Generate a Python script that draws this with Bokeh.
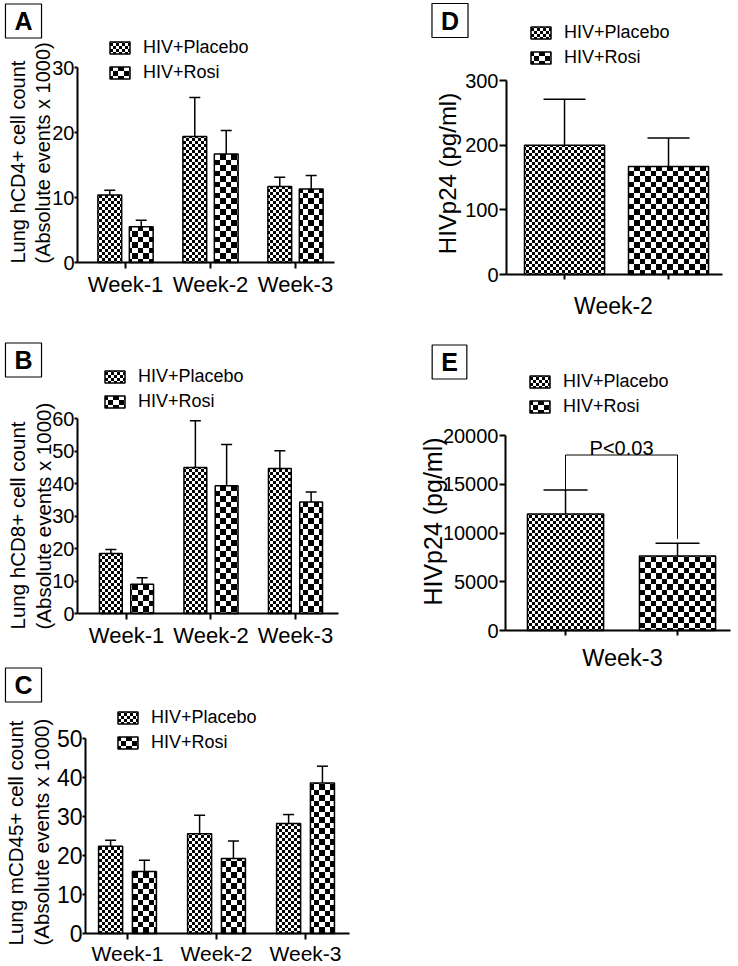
import zlib
import struct
import base64

from bokeh.plotting import figure
from bokeh.models import (ColumnDataSource, Range1d, FixedTicker, Whisker, TeeHead,
                          Legend, LegendItem, Label, ImageURLTexture)
from bokeh.transform import dodge
from bokeh.layouts import row, column
from bokeh.embed import file_html
from bokeh.resources import INLINE
from bokeh.core.properties import value

FONT = "Liberation Sans"

# ---------------- data ----------------
series_names = ["HIV+Placebo", "HIV+Rosi"]
weeks = ["Week-1", "Week-2", "Week-3"]

# Panel A: Lung hCD4+
a_placebo = [10.4, 19.4, 11.7]
a_placebo_err = [0.7, 6.0, 1.4]
a_rosi = [5.5, 16.7, 11.3]
a_rosi_err = [1.0, 3.6, 2.1]
a_yticks = [0, 10, 20, 30]
a_ylabel = "Lung hCD4+ cell count\n(Absolute events x 1000)"

# Panel B: Lung hCD8+
b_placebo = [18.5, 44.9, 44.6]
b_placebo_err = [1.2, 14.4, 5.5]
b_rosi = [9.0, 39.3, 34.3]
b_rosi_err = [2.0, 12.7, 3.1]
b_yticks = [0, 10, 20, 30, 40, 50, 60]
b_ylabel = "Lung hCD8+ cell count\n(Absolute events x 1000)"

# Panel C: Lung mCD45+
c_placebo = [22.4, 25.6, 28.2]
c_placebo_err = [1.5, 4.7, 2.3]
c_rosi = [15.9, 19.2, 38.6]
c_rosi_err = [2.9, 4.5, 4.3]
c_yticks = [0, 10, 20, 30, 40, 50]
c_ylabel = "Lung mCD45+ cell count\n(Absolute events x 1000)"

# Panel D: HIVp24 week 2
d_week = ["Week-2"]
d_placebo = [200]
d_placebo_err = [71]
d_rosi = [167]
d_rosi_err = [44]
d_yticks = [0, 100, 200, 300]
d_ylabel = "HIVp24 (pg/ml)"

# Panel E: HIVp24 week 3
e_week = ["Week-3"]
e_placebo = [11950]
e_placebo_err = [2450]
e_rosi = [7650]
e_rosi_err = [1300]
e_yticks = [0, 5000, 10000, 15000, 20000]
e_ylabel = "HIVp24 (pg/ml)"
e_pvalue = "P<0.03"
e_bracket_y = 18000


# ---------------- checkerboard textures (tiny PNG tiles) ----------------
def checker_png(n, cell):
    raw = bytearray()
    for y in range(n):
        raw.append(0)
        for x in range(n):
            dark = ((x < cell) == (y < cell))
            v = 0 if dark else 255
            raw += bytes((v, v, v))

    def chunk(tag, data):
        c = struct.pack(">I", len(data)) + tag + data
        return c + struct.pack(">I", zlib.crc32(tag + data) & 0xFFFFFFFF)

    png = (b"\x89PNG\r\n\x1a\n"
           + chunk(b"IHDR", struct.pack(">IIBBBBB", n, n, 8, 2, 0, 0, 0))
           + chunk(b"IDAT", zlib.compress(bytes(raw)))
           + chunk(b"IEND", b""))
    return "data:image/png;base64," + base64.b64encode(png).decode()


fine_tex = ImageURLTexture(url=checker_png(6, 3), repetition="repeat")
coarse_tex = ImageURLTexture(url=checker_png(11, 6), repetition="repeat")


def make_panel(cats, plac, plac_err, rosi, rosi_err, yticks, ylabel, *,
               size, box, xbox, bar_w, offs, head,
               ytick_size, ytick_out, xtick_size, xtick_out, xtick_standoff,
               ylabel_pos, ylabel_size, ylabel_align,
               letter, letter_pos, legend_pos,
               xlabel=None, xlabel_pos=None, xlabel_size=None):
    W, H = size
    bx0, by0, bx1, by1 = box            # axis box in figure pixels (left, top, right, bottom)
    xlo, xhi = xbox                     # data x at left / right end of x axis
    ymax = yticks[-1]
    sx = (bx1 - bx0) / (xhi - xlo)
    sy = (by1 - by0) / ymax
    x_range = Range1d(xlo - bx0 / sx, xlo + (W - bx0) / sx)
    y_range = Range1d(-(H - by1) / sy, by1 / sy)

    p = figure(width=W, height=H, x_range=x_range, y_range=y_range,
               output_backend="svg", toolbar_location=None,
               min_border=0, min_border_left=0, min_border_right=0,
               min_border_top=0, min_border_bottom=0)
    p.xgrid.visible = False
    p.ygrid.visible = False
    p.outline_line_color = None
    p.background_fill_color = "white"
    p.border_fill_color = "white"

    src = ColumnDataSource(dict(
        x=list(range(len(cats))),
        plac=plac, plac_hi=[m + e for m, e in zip(plac, plac_err)],
        rosi=rosi, rosi_hi=[m + e for m, e in zip(rosi, rosi_err)],
    ))

    rends = []
    for key, off, tex, name in (("plac", offs[0], fine_tex, "fine"),
                                ("rosi", offs[1], coarse_tex, "coarse")):
        r = p.vbar(x=dodge("x", off), top=key, bottom=0, width=bar_w, source=src,
                   fill_color="white", line_color="black", line_width=1.5,
                   hatch_pattern=value(name), hatch_extra={name: tex},
                   hatch_color="black", hatch_alpha=1.0)
        rends.append(r)
        w = Whisker(base=dodge("x", off), lower=key, upper=key + "_hi", source=src,
                    dimension="height", line_color="black", line_width=1.5,
                    upper_head=TeeHead(size=head, line_color="black", line_width=1.5),
                    lower_head=None)
        p.add_layout(w)

    # y axis (placed at the left end of the x axis)
    ya = p.yaxis[0]
    ya.fixed_location = xlo
    ya.bounds = (0, ymax)
    ya.ticker = FixedTicker(ticks=yticks, minor_ticks=[])
    ya.major_label_text_font = FONT
    ya.major_label_text_font_size = ytick_size
    ya.major_label_text_color = "black"
    ya.major_label_standoff = 0 if ytick_out < 5 else 1
    ya.axis_line_width = 2
    ya.axis_line_color = "black"
    ya.major_tick_line_width = 2
    ya.major_tick_line_color = "black"
    ya.major_tick_out = ytick_out
    ya.major_tick_in = 0
    ya.minor_tick_out = 0
    ya.minor_tick_in = 0

    # x axis (at y = 0)
    xa = p.xaxis[0]
    xa.fixed_location = 0
    xa.bounds = (xlo, xhi)
    if xlabel is None:
        xs = list(range(len(cats)))
        xa.ticker = FixedTicker(ticks=xs, minor_ticks=[])
        xa.major_label_overrides = {i: c for i, c in enumerate(cats)}
        xa.major_label_text_font = FONT
        xa.major_label_text_font_size = xtick_size
        xa.major_label_text_color = "black"
        xa.major_label_standoff = xtick_standoff
    else:
        xs = [offs[0], offs[1]]
        xa.ticker = FixedTicker(ticks=xs, minor_ticks=[])
        xa.major_label_overrides = {t: "" for t in xs}
        xa.major_label_text_font_size = "0px"
        xa.major_label_standoff = 0
    xa.axis_line_width = 2
    xa.axis_line_color = "black"
    xa.major_tick_line_width = 2
    xa.major_tick_line_color = "black"
    xa.major_tick_out = xtick_out
    xa.major_tick_in = 0
    xa.minor_tick_out = 0
    xa.minor_tick_in = 0

    # y axis title
    p.add_layout(Label(x=ylabel_pos[0], y=H - ylabel_pos[1], x_units="screen", y_units="screen",
                       text=ylabel, angle=90, angle_units="deg",
                       text_font=FONT, text_font_size=ylabel_size, text_color="black",
                       text_align=ylabel_align, text_baseline="middle",
                       text_line_height=1.15))
    # x axis title (single-category panels)
    if xlabel is not None:
        p.add_layout(Label(x=xlabel_pos[0], y=H - xlabel_pos[1], x_units="screen", y_units="screen",
                           text=xlabel, text_font=FONT, text_font_size=xlabel_size,
                           text_color="black", text_align="center",
                           text_baseline="alphabetic"))

    # legend
    legend = Legend(items=[LegendItem(label=series_names[0], renderers=[rends[0]]),
                           LegendItem(label=series_names[1], renderers=[rends[1]])],
                    location=(legend_pos[0], H - legend_pos[1]), orientation="vertical",
                    glyph_width=25, glyph_height=15, label_height=20,
                    label_standoff=11, spacing=4, padding=0, margin=0,
                    label_text_font=FONT, label_text_font_size="18px",
                    label_text_color="black",
                    border_line_color=None, background_fill_alpha=0)
    p.add_layout(legend)

    # panel letter in a box
    p.add_layout(Label(x=letter_pos[0], y=H - letter_pos[1], x_units="screen", y_units="screen",
                       text=letter, text_font=FONT, text_font_style="bold",
                       text_font_size="25px", text_color="black",
                       text_align="center", text_baseline="middle",
                       border_line_color="black", border_line_width=1.2,
                       background_fill_color="white", padding=(9, 3)))
    return p


# ---------------- panels ----------------
pA = make_panel(weeks, a_placebo, a_placebo_err, a_rosi, a_rosi_err, a_yticks, a_ylabel,
                size=(370, 298), box=(77, 67, 334, 262), xbox=(-0.565, 2.459),
                bar_w=0.28, offs=(-0.185, 0.185), head=11,
                ytick_size="20px", ytick_out=3, xtick_size="22px", xtick_out=6, xtick_standoff=3,
                ylabel_pos=(30, 263), ylabel_size="20px", ylabel_align="left",
                letter="A", letter_pos=(23, 20.5), legend_pos=(107, 83))

pB = make_panel(weeks, b_placebo, b_placebo_err, b_rosi, b_rosi_err, b_yticks, b_ylabel,
                size=(370, 354), box=(77, 120, 338, 315), xbox=(-0.58, 2.509),
                bar_w=0.27, offs=(-0.185, 0.185), head=11,
                ytick_size="20px", ytick_out=3, xtick_size="22px", xtick_out=6, xtick_standoff=3,
                ylabel_pos=(30, 331), ylabel_size="20.5px", ylabel_align="left",
                letter="B", letter_pos=(23, 61.5), legend_pos=(102, 114))

pC = make_panel(weeks, c_placebo, c_placebo_err, c_rosi, c_rosi_err, c_yticks, c_ylabel,
                size=(370, 314), box=(85, 86, 349, 281), xbox=(-0.472, 2.494),
                bar_w=0.27, offs=(-0.19, 0.19), head=11,
                ytick_size="23px", ytick_out=3, xtick_size="21px", xtick_out=6, xtick_standoff=2,
                ylabel_pos=(28, 293), ylabel_size="20.5px", ylabel_align="left",
                letter="C", letter_pos=(23, 32.5), legend_pos=(115, 101))

pD = make_panel(d_week, d_placebo, d_placebo_err, d_rosi, d_rosi_err, d_yticks, d_ylabel,
                size=(368, 320), box=(136, 80, 352, 274), xbox=(-1.058, 1.019),
                bar_w=0.77, offs=(-0.5, 0.5), head=42,
                ytick_size="20px", ytick_out=7, xtick_size="0px", xtick_out=5, xtick_standoff=0,
                ylabel_pos=(77, 173), ylabel_size="24px", ylabel_align="center",
                letter="D", letter_pos=(79.5, 20), legend_pos=(158, 68),
                xlabel=d_week[0], xlabel_pos=(243, 305), xlabel_size="23px")

pE = make_panel(e_week, e_placebo, e_placebo_err, e_rosi, e_rosi_err, e_yticks, e_ylabel,
                size=(368, 366), box=(135, 115, 360, 310), xbox=(-1.036, 0.973),
                bar_w=0.68, offs=(-0.5, 0.5), head=44,
                ytick_size="20px", ytick_out=6, xtick_size="0px", xtick_out=5, xtick_standoff=0,
                ylabel_pos=(62, 201), ylabel_size="25px", ylabel_align="center",
                letter="E", letter_pos=(79, 41.5), legend_pos=(157, 97),
                xlabel=e_week[0], xlabel_pos=(252, 337), xlabel_size="23.5px")

# significance bracket on E
xl, xr = -0.5, 0.5
plac_top = e_placebo[0] + e_placebo_err[0]
rosi_top = e_rosi[0] + e_rosi_err[0]
pE.line(x=[xl, xl, xr, xr], y=[plac_top, e_bracket_y, e_bracket_y, rosi_top + 450],
        line_color="black", line_width=1)
pE.add_layout(Label(x=0, y=e_bracket_y, text=e_pvalue, text_font=FONT,
                    text_font_size="20px", text_color="black",
                    text_align="center", text_baseline="alphabetic", y_offset=7))

layout = row(column(pA, pB, pC, spacing=0), column(pD, pE, spacing=0), spacing=0)

open("out.html", "w").write(file_html(layout, INLINE))
